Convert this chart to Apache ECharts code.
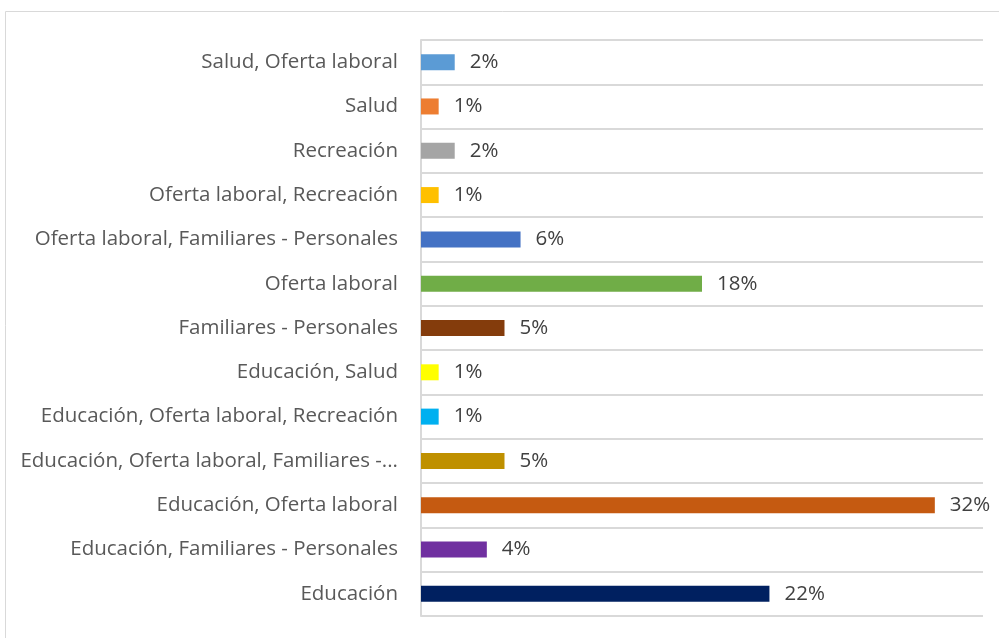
<!DOCTYPE html>
<html lang="es">
  <head>
    <meta charset="UTF-8" />
    <title>Motivos</title>
    <script src="https://cdn.jsdelivr.net/npm/echarts@6/dist/echarts.min.js"></script>
    <style>
      html,
      body {
        margin: 0;
        padding: 0;
        background: #fff;
        overflow: hidden;
      }
      #chart {
        width: 999px;
        height: 638px;
      }
    </style>
  </head>
  <body>
    <div id="chart"></div>
    <script type="text/javascript">
      // categorias de abajo hacia arriba
      const categories = [
        "Educación",
        "Educación, Familiares - Personales",
        "Educación, Oferta laboral",
        "Educación, Oferta laboral, Familiares -...",
        "Educación, Oferta laboral, Recreación",
        "Educación, Salud",
        "Familiares - Personales",
        "Oferta laboral",
        "Oferta laboral, Familiares - Personales",
        "Oferta laboral, Recreación",
        "Recreación",
        "Salud",
        "Salud, Oferta laboral",
      ];
      // porcentajes
      const values = [21.7, 4.1, 32.0, 5.2, 1.1, 1.1, 5.2, 17.5, 6.2, 1.1, 2.1, 1.1, 2.1];
      const barColors = [
        "#002060",
        "#7030A0",
        "#C55A11",
        "#BF9000",
        "#00B0F0",
        "#FFFF00",
        "#843C0C",
        "#70AD47",
        "#4472C4",
        "#FFC000",
        "#A5A5A5",
        "#ED7D31",
        "#5B9BD5",
      ];
      const axisMax = 35;

      const myChart = echarts.init(document.getElementById("chart"));
      const font = "'Open Sans', 'Noto Sans', sans-serif";

      const options = {
        animation: false,
        textStyle: { fontFamily: font },
        graphic: [
          {
            type: "rect",
            shape: { x: 5.5, y: 11.5, width: 1000, height: 700 },
            style: { fill: "none", stroke: "#D9D9D9", lineWidth: 1 },
            silent: true,
          },
        ],
        grid: {
          left: 421,
          right: 16,
          top: 40,
          bottom: 22,
        },
        xAxis: {
          type: "value",
          min: 0,
          max: axisMax,
          axisLabel: { show: false },
          axisLine: { show: false },
          axisTick: { show: false },
          splitLine: { show: false },
        },
        yAxis: {
          type: "category",
          data: categories,
          axisLine: { lineStyle: { color: "#D9D9D9", width: 2 } },
          axisTick: { show: false },
          splitLine: { show: true, lineStyle: { color: "#D9D9D9", width: 2 } },
          axisLabel: {
            color: "#595959",
            fontSize: 20.5,
            fontFamily: font,
            margin: 23,
          },
        },
        series: [
          {
            type: "bar",
            barWidth: 16,
            data: values.map((v, i) => ({
              value: v,
              itemStyle: { color: barColors[i] },
            })),
            label: {
              show: true,
              position: "right",
              distance: 15,
              color: "#404040",
              fontSize: 20.5,
              fontFamily: font,
              formatter: (p) => Math.round(p.value) + "%",
            },
          },
        ],
      };
      myChart.setOption(options);
    </script>
  </body>
</html>
